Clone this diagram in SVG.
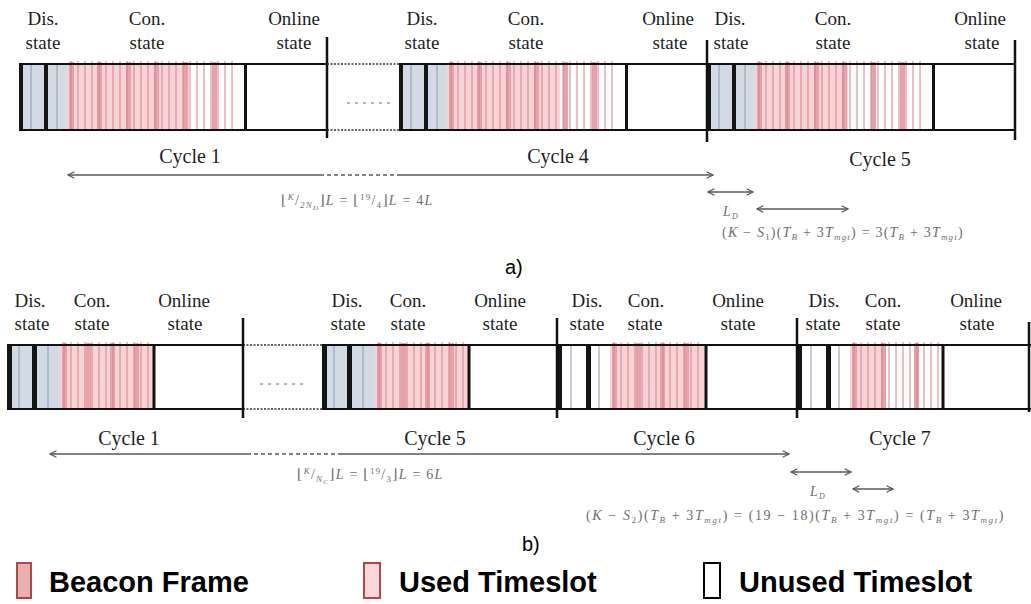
<svg xmlns="http://www.w3.org/2000/svg" width="1031" height="604" viewBox="0 0 1031 604">
<style>
.lbl{font-family:"Liberation Serif","Times New Roman",serif;font-size:19px;fill:#1e1e1e;text-anchor:middle}
.cyc{font-family:"Liberation Serif","Times New Roman",serif;font-size:20px;fill:#1e1e1e;text-anchor:middle}
.fml{font-family:"Liberation Serif","DejaVu Serif",serif;font-size:14px;fill:#707070;letter-spacing:1.2px}
.it{font-style:italic}
.cap{font-family:"Liberation Sans",Arial,sans-serif;font-size:20px;fill:#000}
.leg{font-family:"Liberation Sans",Arial,sans-serif;font-size:29px;font-weight:bold;fill:#000}
.dis{fill:#d3dae3}
.used{fill:#f8d3d6}
.beacon{fill:#e8a1a8}
.slot{stroke:#d68089;stroke-width:1;fill:none}
.thin{stroke:#8a9ab2;stroke-width:1}
.blk{fill:#151515}
.edge{stroke:#111;stroke-width:2;fill:none}
.sep{stroke:#111;stroke-width:3}
.tick{stroke:#111;stroke-width:2.5;fill:none}
.dot{stroke:#333;stroke-width:1.5;stroke-dasharray:2 1.5;fill:none}
.ell{stroke:#666;stroke-width:1;stroke-dasharray:3 5;fill:none}
.conn{stroke:#595959;stroke-width:1.5;fill:none}
.dash{stroke-dasharray:4 3}
</style>
<defs>
<marker id="ah" viewBox="0 0 10 10" refX="9" refY="5" markerWidth="8" markerHeight="8" markerUnits="userSpaceOnUse" orient="auto-start-reverse"><path d="M1,1 L9,5 L1,9" fill="none" stroke="#595959" stroke-width="1.5"/></marker>
<g id="linesA"><path class="slot" d="M52 -3V66M59 -3V66M66 -3V66M73 -3V66M80 -3V66M87 -3V66M94 -3V66M101 -3V66M108 -3V66M115 -3V66M122 -3V66M129 -3V66M136 -3V66M143 -3V66M150 -3V66M157 -3V66M164 -3V66M171 -3V66M178 -3V66M185 -3V66M192 -3V66M199 -3V66M206 -3V66M213 -3V66"/></g>
<g id="bandsA" class="beacon"><rect x="50" y="-2" width="5" height="68"/><rect x="78" y="-2" width="5" height="68"/><rect x="107" y="-2" width="5" height="68"/><rect x="135" y="-2" width="5" height="68"/><rect x="164" y="-2" width="5" height="68"/><rect x="193" y="-2" width="5" height="68"/></g>
<g id="disA"><rect class="dis" x="0" y="0" width="48" height="66"/><path class="thin" d="M12 0V66M38 0V66"/><rect class="blk" x="0" y="0" width="4" height="66"/><rect class="blk" x="25" y="0" width="4" height="66"/></g>
<g id="linesB"><path class="slot" d="M57 -3V64M64 -3V64M71 -3V64M78 -3V64M85 -3V64M92 -3V64M99 -3V64M106 -3V64M113 -3V64M120 -3V64M127 -3V64M134 -3V64M141 -3V64"/></g>
<g id="bandsB" class="beacon"><rect x="55" y="-2" width="5" height="66"/><rect x="79" y="-2" width="5" height="66"/><rect x="103" y="-2" width="5" height="66"/><rect x="127" y="-2" width="5" height="66"/></g>
<g id="disB"><rect class="dis" x="0" y="0" width="53" height="64"/><path class="thin" d="M12 0V64M41 0V64"/><rect class="blk" x="0" y="0" width="5" height="64"/><rect class="blk" x="25" y="0" width="5" height="64"/></g>
<g id="disW"><rect fill="#fff" x="0" y="0" width="53" height="64"/><path class="thin" d="M14 0V64M42 0V64"/><rect class="blk" x="0" y="0" width="5" height="64"/><rect class="blk" x="29" y="0" width="5" height="64"/></g>
</defs>

<!-- part a -->
<g id="a-seg1" transform="translate(19,64)">
<rect class="used" x="48" y="0" width="122" height="66"/><use href="#bandsA"/><use href="#linesA"/><use href="#disA"/><line class="sep" x1="226.5" y1="0" x2="226.5" y2="66"/>
</g>
<g id="a-seg2" transform="translate(399,64)">
<rect class="used" x="48" y="0" width="113" height="66"/><use href="#bandsA"/><use href="#linesA"/><use href="#disA"/><line class="sep" x1="227.5" y1="0" x2="227.5" y2="66"/>
</g>
<g id="a-seg3" transform="translate(707,64)">
<rect class="used" x="48" y="0" width="93" height="66"/><use href="#bandsA"/><use href="#linesA"/><use href="#disA"/><line class="sep" x1="226.5" y1="0" x2="226.5" y2="66"/>
</g>
<g id="a-frame">
<path class="edge" d="M19 64H327M399 64H1015M19 130H327M399 130H1015"/>
<path class="dot" d="M327 64H399M327 130H399"/>
<path class="ell" d="M347 103H390"/>
<path class="tick" d="M327 37V138M707 40V142M1015 40V140"/>
</g>
<g id="a-labels">
<text class="lbl" x="43" y="25">Dis.</text><text class="lbl" x="43" y="49">state</text>
<text class="lbl" x="147" y="25">Con.</text><text class="lbl" x="147" y="49">state</text>
<text class="lbl" x="294" y="25">Online</text><text class="lbl" x="294" y="49">state</text>
<text class="lbl" x="422" y="25">Dis.</text><text class="lbl" x="422" y="49">state</text>
<text class="lbl" x="526" y="25">Con.</text><text class="lbl" x="526" y="49">state</text>
<text class="lbl" x="668" y="25">Online</text><text class="lbl" x="670" y="49">state</text>
<text class="lbl" x="730" y="25">Dis.</text><text class="lbl" x="731" y="49">state</text>
<text class="lbl" x="833" y="25">Con.</text><text class="lbl" x="833" y="49">state</text>
<text class="lbl" x="980" y="25">Online</text><text class="lbl" x="982" y="49">state</text>
<text class="cyc" x="190" y="163">Cycle 1</text>
<text class="cyc" x="558" y="163">Cycle 4</text>
<text class="cyc" x="880" y="166">Cycle 5</text>
<text class="fml" x="281" y="205">⌊<tspan class="it" font-size="9" dy="-5">K</tspan><tspan dy="5">/</tspan><tspan class="it" font-size="9" dy="3">2N</tspan><tspan class="it" font-size="7" dy="2">D</tspan><tspan dy="-5">⌋</tspan><tspan class="it">L</tspan> = ⌊<tspan font-size="9" dy="-5">19</tspan><tspan dy="5">/</tspan><tspan font-size="9" dy="3">4</tspan><tspan dy="-3">⌋</tspan><tspan class="it">L</tspan> = 4<tspan class="it">L</tspan></text>
<text class="fml" x="723" y="216"><tspan class="it">L</tspan><tspan class="it" font-size="8" dy="3">D</tspan></text>
<text class="fml" x="722" y="237">(<tspan class="it">K</tspan> − <tspan class="it">S</tspan><tspan font-size="9" dy="3">1</tspan><tspan dy="-3">)(</tspan><tspan class="it">T</tspan><tspan class="it" font-size="9" dy="3">B</tspan><tspan dy="-3"> + 3</tspan><tspan class="it">T</tspan><tspan class="it" font-size="9" dy="3">mgt</tspan><tspan dy="-3">) = 3(</tspan><tspan class="it">T</tspan><tspan class="it" font-size="9" dy="3">B</tspan><tspan dy="-3"> + 3</tspan><tspan class="it">T</tspan><tspan class="it" font-size="9" dy="3">mgt</tspan><tspan dy="-3">)</tspan></text>
<text class="cap" x="505" y="274">a)</text>
</g>

<!-- part b -->
<g id="b-seg1" transform="translate(7,345)">
<rect class="used" x="53" y="0" width="94" height="64"/><use href="#bandsB"/><use href="#linesB"/><use href="#disB"/><line class="sep" x1="147" y1="0" x2="147" y2="64"/>
</g>
<g id="b-seg2" transform="translate(322,345)">
<rect class="used" x="51" y="0" width="96" height="64"/><use href="#bandsB"/><use href="#linesB"/><use href="#disB"/><line class="sep" x1="147" y1="0" x2="147" y2="64"/>
</g>
<g id="b-seg3" transform="translate(557,345)">
<rect class="used" x="53" y="0" width="95" height="64"/><use href="#bandsB"/><use href="#linesB"/><use href="#disW"/><line class="sep" x1="149" y1="0" x2="149" y2="64"/>
</g>
<g id="b-seg4" transform="translate(797,345)">
<rect class="used" x="53" y="0" width="35" height="64"/><g class="beacon"><rect x="55" y="-2" width="5" height="66"/><rect x="84" y="-2" width="5" height="66"/><rect x="117" y="-2" width="5" height="66"/></g><use href="#linesB"/><use href="#disW"/><line class="sep" x1="146" y1="0" x2="146" y2="64"/>
</g>
<g id="b-frame">
<path class="edge" d="M7 345H243M322 345H1031M7 409H243M322 409H1031"/>
<path class="dot" d="M243 345H322M243 409H322"/>
<path class="ell" d="M260 384H305"/>
<path class="tick" d="M243 318V418M557 318V418M797 318V418M1029 322V412"/>
</g>
<g id="b-labels">
<text class="lbl" x="30" y="307">Dis.</text><text class="lbl" x="32" y="330">state</text>
<text class="lbl" x="92" y="307">Con.</text><text class="lbl" x="92" y="330">state</text>
<text class="lbl" x="184" y="307">Online</text><text class="lbl" x="185" y="330">state</text>
<text class="lbl" x="347" y="307">Dis.</text><text class="lbl" x="348" y="330">state</text>
<text class="lbl" x="408" y="307">Con.</text><text class="lbl" x="408" y="330">state</text>
<text class="lbl" x="500" y="307">Online</text><text class="lbl" x="500" y="330">state</text>
<text class="lbl" x="587" y="307">Dis.</text><text class="lbl" x="587" y="330">state</text>
<text class="lbl" x="646" y="307">Con.</text><text class="lbl" x="645" y="330">state</text>
<text class="lbl" x="738" y="307">Online</text><text class="lbl" x="738" y="330">state</text>
<text class="lbl" x="824" y="307">Dis.</text><text class="lbl" x="823" y="330">state</text>
<text class="lbl" x="883" y="307">Con.</text><text class="lbl" x="883" y="330">state</text>
<text class="lbl" x="976" y="307">Online</text><text class="lbl" x="977" y="330">state</text>
<text class="cyc" x="129" y="445">Cycle 1</text>
<text class="cyc" x="435" y="445">Cycle 5</text>
<text class="cyc" x="664" y="445">Cycle 6</text>
<text class="cyc" x="900" y="445">Cycle 7</text>
<text class="fml" x="297" y="479">⌊<tspan class="it" font-size="9" dy="-5">K</tspan><tspan dy="5">/</tspan><tspan class="it" font-size="9" dy="3">N</tspan><tspan class="it" font-size="7" dy="2">C</tspan><tspan dy="-5">⌋</tspan><tspan class="it">L</tspan> = ⌊<tspan font-size="9" dy="-5">19</tspan><tspan dy="5">/</tspan><tspan font-size="9" dy="3">3</tspan><tspan dy="-3">⌋</tspan><tspan class="it">L</tspan> = 6<tspan class="it">L</tspan></text>
<text class="fml" x="810" y="496"><tspan class="it">L</tspan><tspan class="it" font-size="8" dy="3">D</tspan></text>
<text class="fml" x="586" y="520" style="letter-spacing:1.6px">(<tspan class="it">K</tspan> − <tspan class="it">S</tspan><tspan font-size="9" dy="3">2</tspan><tspan dy="-3">)(</tspan><tspan class="it">T</tspan><tspan class="it" font-size="9" dy="3">B</tspan><tspan dy="-3"> + 3</tspan><tspan class="it">T</tspan><tspan class="it" font-size="9" dy="3">mgt</tspan><tspan dy="-3">) = (19 − 18)(</tspan><tspan class="it">T</tspan><tspan class="it" font-size="9" dy="3">B</tspan><tspan dy="-3"> + 3</tspan><tspan class="it">T</tspan><tspan class="it" font-size="9" dy="3">mgt</tspan><tspan dy="-3">) = (</tspan><tspan class="it">T</tspan><tspan class="it" font-size="9" dy="3">B</tspan><tspan dy="-3"> + 3</tspan><tspan class="it">T</tspan><tspan class="it" font-size="9" dy="3">mgt</tspan><tspan dy="-3">)</tspan></text>
<text class="cap" x="522" y="551">b)</text>
</g>

<g id="connectors">
<path class="conn" d="M68 175H320" marker-start="url(#ah)"/>
<path class="conn dash" d="M320 175H400"/>
<path class="conn" d="M400 175H713" marker-end="url(#ah)"/>
<path class="conn" d="M708 192H753" marker-start="url(#ah)" marker-end="url(#ah)"/>
<path class="conn" d="M757 209H848" marker-start="url(#ah)" marker-end="url(#ah)"/>
<path class="conn" d="M50 454H247" marker-start="url(#ah)"/>
<path class="conn dash" d="M247 454H340"/>
<path class="conn" d="M340 454H789" marker-end="url(#ah)"/>
<path class="conn" d="M791 472H851" marker-start="url(#ah)" marker-end="url(#ah)"/>
<path class="conn" d="M853 489H893" marker-start="url(#ah)" marker-end="url(#ah)"/>
</g>

<g id="legend">
<rect x="17" y="563" width="14" height="35" fill="#e8b0b0" stroke="#b04848" stroke-width="2"/>
<text class="leg" x="49" y="592">Beacon Frame</text>
<rect x="364" y="563" width="16" height="35" fill="#f7d7d7" stroke="#b04848" stroke-width="2"/>
<text class="leg" x="399" y="592">Used Timeslot</text>
<rect x="704" y="563" width="16" height="35" fill="#fff" stroke="#000" stroke-width="2"/>
<text class="leg" x="739" y="592">Unused Timeslot</text>
</g>
</svg>
